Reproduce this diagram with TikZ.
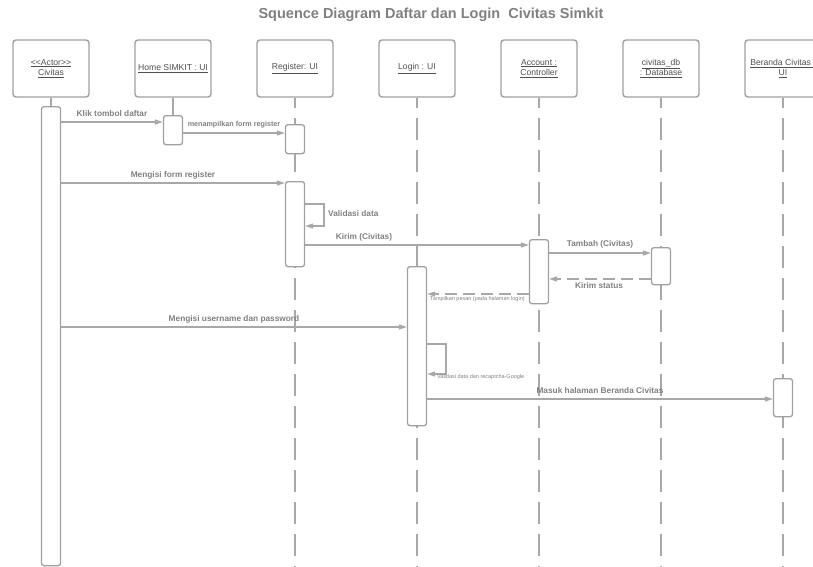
\documentclass[tikz,border=0pt]{standalone}
\usepackage{fontspec}
\setmainfont{Liberation Sans}
\usetikzlibrary{arrows.meta}

\definecolor{lineGray}{HTML}{A8A8A8}
\definecolor{boxGray}{HTML}{A0A0A0}
\definecolor{labelGray}{HTML}{808080}
\definecolor{headGray}{HTML}{505050}

\tikzset{
  x=1pt, y=-1pt,
  headbox/.style={draw=boxGray, line width=1.4pt, rounded corners=3pt, fill=white,
    minimum width=76pt, minimum height=57pt, align=center, inner sep=1pt,
    text=headGray, font=\fontsize{8.6}{10.5}\selectfont},
  actbar/.style={draw=boxGray, line width=1.3pt, rounded corners=2.5pt, fill=white,
    minimum width=19pt, inner sep=0pt, anchor=north},
  lifeline/.style={draw=lineGray, line width=1.2pt, dash pattern=on 22pt off 10pt, dash phase=12pt},
  stem/.style={draw=lineGray, line width=1.2pt},
  msg/.style={draw=lineGray, line width=1.2pt, -{Triangle[length=8pt,width=5pt]}},
  reply/.style={msg, dash pattern=on 12pt off 6pt},
  lbl/.style={text=labelGray, font=\bfseries\fontsize{8.3}{10}\selectfont, inner sep=0pt},
  smalllbl/.style={text=labelGray, font=\bfseries\fontsize{7.2}{8}\selectfont, inner sep=0pt},
  tinylbl/.style={text=labelGray, font=\fontsize{5.5}{6}\selectfont, inner sep=0pt},
}

\begin{document}
\begin{tikzpicture}
\useasboundingbox (0,0) rectangle (813,566);
\clip (0,0) rectangle (813,566);

% title
\node[text=labelGray, font=\bfseries\fontsize{14.5}{16}\selectfont] (title) at (431,15)
  {Squence Diagram Daftar dan Login \ Civitas Simkit};

% participants
\node[headbox] (civitas)  at (51,68.5)  {\underline{{<}{<}Actor{>}{>}}\\\underline{Civitas}};
\node[headbox] (home)     at (173,68.5) {\underline{Home SIMKIT : UI}};
\node[headbox] (register) at (295,68.5) {\underline{Register: UI}};
\node[headbox] (login)    at (417,68.5) {\underline{Login : UI}};
\node[headbox] (account)  at (539,68.5) {\underline{Account :}\\\underline{Controller}};
\node[headbox] (db)       at (661,68.5) {\underline{civitas\_db}\\\underline{: Database}};
\node[headbox] (beranda)  at (783,68.5) {\underline{Beranda Civitas :}\\\underline{UI}};

% end points of the lifelines
\coordinate (registerEnd) at (295,566);
\coordinate (loginEnd)    at (417,566);
\coordinate (accountEnd)  at (539,566);
\coordinate (dbEnd)       at (661,566);
\coordinate (berandaEnd)  at (783,566);

% lifelines
\draw[lifeline] (register.south) -- (registerEnd);
\draw[lifeline] (login.south)    -- (loginEnd);
\draw[lifeline] (account.south)  -- (accountEnd);
\draw[lifeline] (db.south)       -- (dbEnd);
\draw[lifeline] (beranda.south)  -- (berandaEnd);

% activation bars
\node[actbar, minimum height=459pt] (civBar)  at (51,106)  {};
\node[actbar, minimum height=29pt]  (homeBar) at (173,115) {};
\node[actbar, minimum height=29pt]  (regBarA) at (295,124) {};
\node[actbar, minimum height=85pt]  (regBarB) at (295,181) {};
\node[actbar, minimum height=64pt]  (accBar)  at (539,239) {};
\node[actbar, minimum height=37pt]  (dbBar)   at (661,247) {};
\node[actbar, minimum height=159pt] (logBar)  at (417,266) {};
\node[actbar, minimum height=38pt]  (berBar)  at (783,378) {};

% short stems from the header boxes to the first bars
\draw[stem] (civitas.south) -- (civBar.north);
\draw[stem] (home.south) -- (homeBar.north);

% messages
\draw[msg] (civBar.east |- 0,122) -- (homeBar.west |- 0,122);
\node[lbl] (m1) at (112,114) {Klik tombol daftar};

\draw[msg] (homeBar.east |- 0,133) -- (regBarA.west |- 0,133);
\node[smalllbl] (m2) at (234,125) {menampilkan form register};

\draw[msg] (civBar.east |- 0,183) -- (regBarB.west |- 0,183);
\node[lbl] (m3) at (173,175) {Mengisi form register};

\draw[msg] (regBarB.east |- 0,204) -| (324,226) -- (regBarB.east |- 0,226);
\node[lbl, anchor=west] (m4) at (328,214) {Validasi data};

\draw[msg] (regBarB.east |- 0,245) -- (accBar.west |- 0,245);
\node[lbl] (m5) at (364,237) {Kirim (Civitas)};

\draw[msg] (accBar.east |- 0,253) -- (dbBar.west |- 0,253);
\node[lbl] (m6) at (600,244) {Tambah (Civitas)};

\draw[reply] (dbBar.west |- 0,279) -- (accBar.east |- 0,279);
\node[lbl] (m7) at (599,286) {Kirim status};

\draw[reply] (accBar.west |- 0,294) -- (logBar.east |- 0,294);
\node[tinylbl, anchor=west] (m8) at (430,299) {Tampilkan pesan (pada halaman login)};

\draw[msg] (civBar.east |- 0,327) -- (logBar.west |- 0,327);
\node[lbl] (m9) at (234,319) {Mengisi username dan password};

\draw[msg] (logBar.east |- 0,344) -| (446,374) -- (logBar.east |- 0,374);
\node[tinylbl, anchor=west] (m10) at (437,377) {Validasi data dan recaptcha-Google};

\draw[msg] (logBar.east |- 0,399) -- (berBar.west |- 0,399);
\node[lbl] (m11) at (600,391) {Masuk halaman Beranda Civitas};
\end{tikzpicture}
\end{document}
